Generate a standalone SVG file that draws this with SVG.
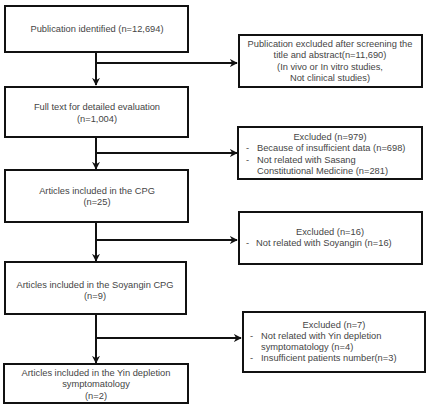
<svg xmlns="http://www.w3.org/2000/svg" width="428" height="404" viewBox="0 0 428 404">
<style>
.box{fill:#fff;stroke:#111;stroke-width:2}
.t{font-family:"Liberation Sans",Arial,sans-serif;font-size:9.3px;fill:#454545}
.c{text-anchor:middle}
.ln{stroke:#111;stroke-width:2;fill:none}
</style>
<defs>
<marker id="ah" viewBox="0 0 10 10" refX="9" refY="5" markerWidth="4" markerHeight="4" orient="auto" markerUnits="strokeWidth">
<path d="M0,0 L10,5 L0,10 L3,5 z" fill="#111"/>
</marker>
</defs>
<rect width="428" height="404" fill="#fff"/>
<g id="connectors">
<path class="ln" d="M96,52 V85" marker-end="url(#ah)"/>
<path class="ln" d="M96,63 H237" marker-end="url(#ah)"/>
<path class="ln" d="M96,137 V169" marker-end="url(#ah)"/>
<path class="ln" d="M96,153 H237" marker-end="url(#ah)"/>
<path class="ln" d="M96,222 V261" marker-end="url(#ah)"/>
<path class="ln" d="M96,240 H237" marker-end="url(#ah)"/>
<path class="ln" d="M96,314 V363" marker-end="url(#ah)"/>
<path class="ln" d="M96,338 H241" marker-end="url(#ah)"/>
</g>
<g id="n1">
<rect class="box" x="5" y="6" width="183" height="46"/>
<text class="t c" x="97" y="32">Publication identified (n=12,694)</text>
</g>
<g id="n2">
<rect class="box" x="5" y="87" width="183" height="50"/>
<text class="t c" x="97" y="110">Full text for detailed evaluation</text>
<text class="t c" x="97" y="122">(n=1,004)</text>
</g>
<g id="n3">
<rect class="box" x="5" y="170" width="183" height="52"/>
<text class="t c" x="97" y="194">Articles included in the CPG</text>
<text class="t c" x="97" y="205">(n=25)</text>
</g>
<g id="n4">
<rect class="box" x="5" y="262" width="181" height="52"/>
<text class="t c" x="95" y="288">Articles included in the Soyangin CPG</text>
<text class="t c" x="95" y="299">(n=9)</text>
</g>
<g id="n5">
<rect class="box" x="4" y="364" width="184" height="39"/>
<text class="t c" x="96" y="376">Articles included in the Yin depletion</text>
<text class="t c" x="96" y="387">symptomatology</text>
<text class="t c" x="96" y="399">(n=2)</text>
</g>
<g id="e1">
<rect class="box" x="239" y="35" width="183" height="52"/>
<text class="t c" x="330" y="47">Publication excluded after screening the</text>
<text class="t c" x="330" y="58">title and abstract(n=11,690)</text>
<text class="t c" x="330" y="70">(In vivo or In vitro studies,</text>
<text class="t c" x="330" y="81">Not clinical studies)</text>
</g>
<g id="e2">
<rect class="box" x="238" y="127" width="184" height="52"/>
<text class="t c" x="330" y="140">Excluded (n=979)</text>
<text class="t" x="246" y="151">-</text>
<text class="t" x="257" y="151">Because of insufficient data (n=698)</text>
<text class="t" x="246" y="163">-</text>
<text class="t" x="257" y="163">Not related with Sasang</text>
<text class="t" x="257" y="174">Constitutional Medicine (n=281)</text>
</g>
<g id="e3">
<rect class="box" x="239" y="212" width="183" height="52"/>
<text class="t c" x="330" y="235">Excluded (n=16)</text>
<text class="t" x="246" y="246">-</text>
<text class="t" x="256" y="246">Not related with Soyangin  (n=16)</text>
</g>
<g id="e4">
<rect class="box" x="243" y="312" width="182" height="60"/>
<text class="t c" x="334" y="328">Excluded (n=7)</text>
<text class="t" x="250" y="339">-</text>
<text class="t" x="261" y="339">Not related with Yin depletion</text>
<text class="t" x="261" y="350">symptomatology  (n=4)</text>
<text class="t" x="250" y="361">-</text>
<text class="t" x="261" y="361">Insufficient patients number(n=3)</text>
</g>
</svg>
